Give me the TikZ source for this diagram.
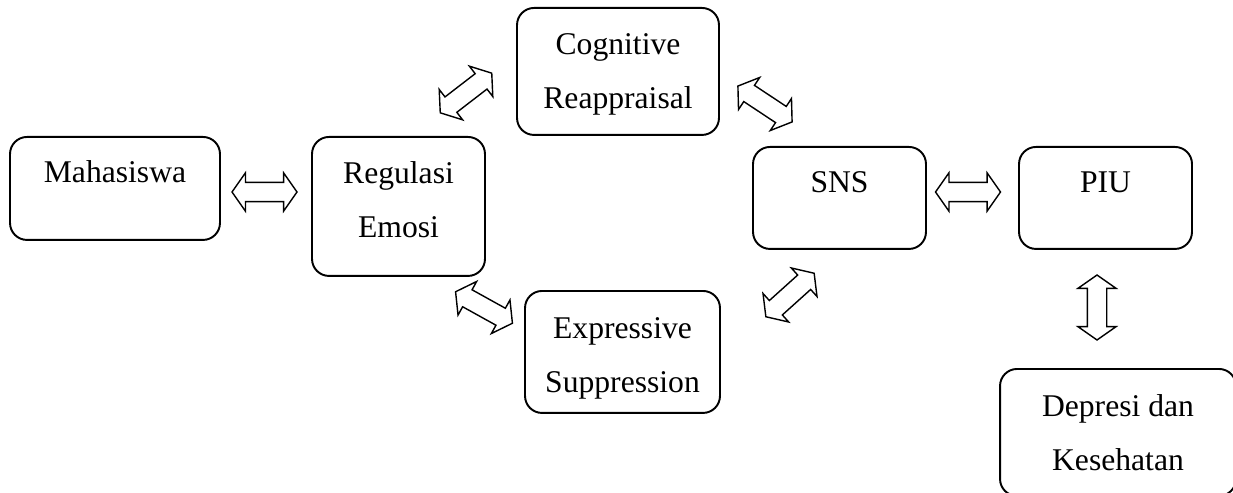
\documentclass[tikz,border=0pt]{standalone}
\usepackage{fontspec}
\setmainfont{Liberation Serif}
\usetikzlibrary{shapes.arrows}

\begin{document}
\begin{tikzpicture}[x=0.02cm,y=-0.02cm,
    box/.style={draw,line width=1.1pt,rounded corners=0.34cm,inner sep=0pt,
      align=center,anchor=north,text height=0.92cm,
      font=\fontsize{18}{31}\selectfont},
    dblarrow/.style={draw,line width=0.8pt,double arrow,inner xsep=0pt,inner ysep=0.18cm,
      minimum height=1.3cm,minimum width=0.74cm,
      double arrow head extend=0.19cm,double arrow tip angle=110,
      double arrow head indent=0pt}]
      \useasboundingbox (0,0) rectangle (1233,493);
      % boxes
      \node[box,minimum width=4.2cm,text depth=1.14cm] (maha) at (115,136) {Mahasiswa};
      \node[box,minimum width=3.46cm,text height=2.02cm,text depth=0.76cm] (reg) at (398.5,136) {Regulasi\\Emosi};
      \node[box,minimum width=4.04cm,text height=2.02cm,text depth=0.52cm] (cog) at (618,7) {Cognitive\\Reappraisal};
      \node[box,minimum width=3.9cm,text height=2.04cm,text depth=0.4cm] (exp) at (622.5,290) {Expressive\\Suppression};
      \node[box,minimum width=3.46cm,text depth=1.12cm] (sns) at (839.5,146) {SNS};
      \node[box,minimum width=3.46cm,text depth=1.12cm] (piu) at (1105.5,146) {PIU};
      \node[box,minimum width=4.72cm,text height=2.04cm,text depth=0.5cm] (dep) at (1118,368) {Depresi dan\\Kesehatan};
      % two-way arrows
      \node[dblarrow] (a1) at (264.5,192) {};
      \node[dblarrow,rotate=37.6] (a2) at (466,93) {};
      \node[dblarrow,rotate=-33.5] (a3) at (765,104) {};
      \node[dblarrow,rotate=-29] (a4) at (484,307.5) {};
      \node[dblarrow,rotate=42] (a5) at (790,295) {};
      \node[dblarrow] (a6) at (968,192) {};
      \node[dblarrow,rotate=90] (a7) at (1097,307.5) {};
\end{tikzpicture}
\end{document}
